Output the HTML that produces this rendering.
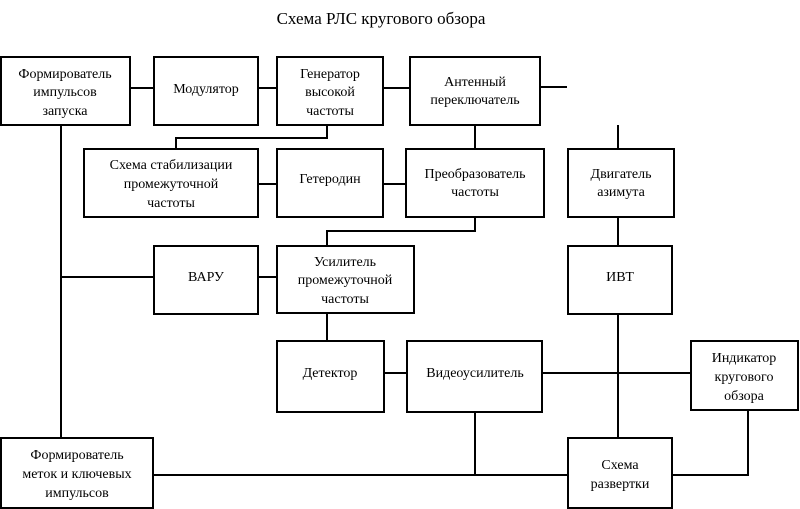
<!DOCTYPE html>
<html><head><meta charset="utf-8"><style>
body{margin:0;background:#fff;}
svg{display:block}
text{font-family:"Liberation Serif","DejaVu Serif",serif;font-size:14px;fill:#000;text-anchor:middle}
rect{fill:#fff;stroke:#000;stroke-width:2}
line,polyline{stroke:#000;stroke-width:2;fill:none}
</style></head><body>
<svg width="800" height="509" viewBox="0 0 800 509">
<text x="381" y="24" style="font-size:17px">Схема РЛС кругового обзора</text>
<!-- connectors -->
<line x1="130" y1="88" x2="154" y2="88"/>
<line x1="258" y1="88" x2="277" y2="88"/>
<line x1="383" y1="88" x2="410" y2="88"/>
<line x1="540" y1="87" x2="567" y2="87"/>
<polyline points="327,125 327,138 176,138 176,149"/>
<line x1="258" y1="184" x2="277" y2="184"/>
<line x1="383" y1="184" x2="406" y2="184"/>
<line x1="475" y1="125" x2="475" y2="149"/>
<polyline points="475,217 475,231 327,231 327,246"/>
<line x1="618" y1="125" x2="618" y2="149"/>
<line x1="618" y1="217" x2="618" y2="246"/>
<line x1="61" y1="125" x2="61" y2="438"/>
<line x1="61" y1="277" x2="154" y2="277"/>
<line x1="258" y1="277" x2="277" y2="277"/>
<line x1="327" y1="313" x2="327" y2="341"/>
<line x1="384" y1="373" x2="407" y2="373"/>
<line x1="542" y1="373" x2="691" y2="373"/>
<line x1="618" y1="314" x2="618" y2="438"/>
<line x1="475" y1="412" x2="475" y2="475"/>
<line x1="153" y1="475" x2="568" y2="475"/>
<polyline points="672,475 748,475 748,410"/>
<!-- boxes -->
<rect x="1" y="57" width="129" height="68"/>
<text x="65" y="78">Формирователь</text><text x="65" y="96">импульсов</text><text x="65" y="115">запуска</text>
<rect x="154" y="57" width="104" height="68"/>
<text x="206" y="93">Модулятор</text>
<rect x="277" y="57" width="106" height="68"/>
<text x="330" y="78">Генератор</text><text x="330" y="96">высокой</text><text x="330" y="115">частоты</text>
<rect x="410" y="57" width="130" height="68"/>
<text x="475" y="86">Антенный</text><text x="475" y="104">переключатель</text>
<rect x="84" y="149" width="174" height="68"/>
<text x="171" y="169">Схема стабилизации</text><text x="171" y="188">промежуточной</text><text x="171" y="207">частоты</text>
<rect x="277" y="149" width="106" height="68"/>
<text x="330" y="183">Гетеродин</text>
<rect x="406" y="149" width="138" height="68"/>
<text x="475" y="178">Преобразователь</text><text x="475" y="196">частоты</text>
<rect x="568" y="149" width="106" height="68"/>
<text x="621" y="178">Двигатель</text><text x="621" y="196">азимута</text>
<rect x="154" y="246" width="104" height="68"/>
<text x="206" y="281">ВАРУ</text>
<rect x="277" y="246" width="137" height="67"/>
<text x="345" y="266">Усилитель</text><text x="345" y="284">промежуточной</text><text x="345" y="303">частоты</text>
<rect x="568" y="246" width="104" height="68"/>
<text x="620" y="281">ИВТ</text>
<rect x="277" y="341" width="107" height="71"/>
<text x="330" y="377">Детектор</text>
<rect x="407" y="341" width="135" height="71"/>
<text x="475" y="377">Видеоусилитель</text>
<rect x="691" y="341" width="107" height="69"/>
<text x="744" y="362">Индикатор</text><text x="744" y="381">кругового</text><text x="744" y="400">обзора</text>
<rect x="1" y="438" width="152" height="70"/>
<text x="77" y="459">Формирователь</text><text x="77" y="478">меток и ключевых</text><text x="77" y="497">импульсов</text>
<rect x="568" y="438" width="104" height="70"/>
<text x="620" y="469">Схема</text><text x="620" y="488">развертки</text>
</svg>
</body></html>
